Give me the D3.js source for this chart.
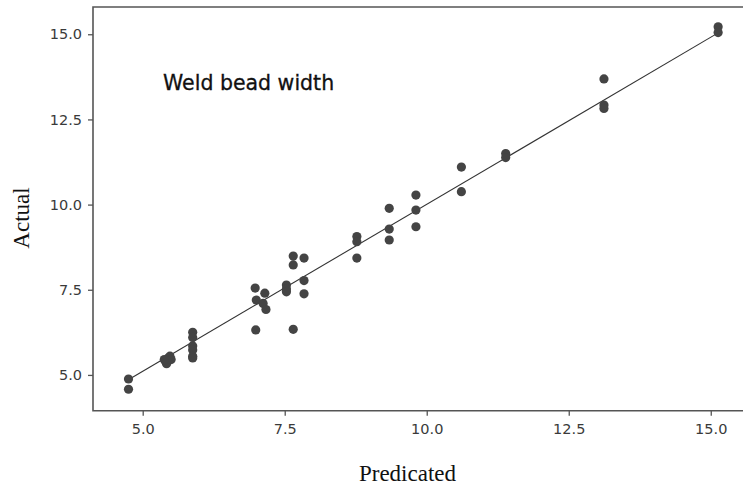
<!DOCTYPE html>
<html>
<head>
<meta charset="utf-8">
<script src="https://cdn.jsdelivr.net/npm/d3@7/dist/d3.min.js"></script>
<style>
  html, body { margin: 0; padding: 0; background: #fff; }
  svg { display: block; }
</style>
</head>
<body>
<svg id="chart" width="743" height="491"></svg>
<script>
// Data
const predicted = [4.75, 4.75,
  5.40, 5.45, 5.48, 5.42, 5.50, 5.38,
  5.88, 5.88, 5.88, 5.88, 5.88, 5.88,
  6.98, 7.00, 7.15, 7.12, 7.17, 6.99,
  7.53, 7.53, 7.53,
  7.65, 7.65, 7.65,
  7.84, 7.84, 7.84,
  8.77, 8.77, 8.77,
  9.34, 9.34, 9.34,
  9.81, 9.81, 9.81,
  10.61, 10.61,
  11.39, 11.39,
  13.12, 13.12, 13.12,
  15.13, 15.13];
const actual = [4.88, 4.58,
  5.40, 5.50, 5.55, 5.33, 5.45, 5.45,
  6.25, 6.10, 5.85, 5.73, 5.55, 5.50,
  7.55, 7.20, 7.40, 7.10, 6.92, 6.32,
  7.64, 7.52, 7.44,
  8.49, 8.23, 6.34,
  8.43, 7.77, 7.38,
  9.06, 8.91, 8.43,
  9.89, 9.28, 8.96,
  10.28, 9.84, 9.35,
  11.10, 10.38,
  11.50, 11.38,
  13.69, 12.92, 12.82,
  15.22, 15.05];
const fitX = [4.74, 15.13];
const fitY = [4.85, 15.04];
const xTicks = [5.0, 7.5, 10.0, 12.5, 15.0];
const yTicks = [5.0, 7.5, 10.0, 12.5, 15.0];
const xTitle = "Predicated";
const yTitle = "Actual";
const annotation = "Weld bead width";

const svg = d3.select("#chart");
const pLeft = 93, pRight = 742, pTop = 7, pBottom = 410.7;

const x = d3.scaleLinear().domain([4.125, 15.55]).range([pLeft, pRight]);
const y = d3.scaleLinear().domain([3.95, 15.8]).range([pBottom, pTop]);

// Frame (top, left, bottom)
svg.append("path")
  .attr("d", `M${pRight + 2},${pTop}H${pLeft}V${pBottom}H${pRight + 2}`)
  .attr("fill", "none")
  .attr("stroke", "#555")
  .attr("stroke-width", 1.6);

// Axes
const xAxis = svg.append("g")
  .attr("transform", `translate(0,${pBottom})`)
  .call(d3.axisBottom(x).tickValues(xTicks).tickFormat(d3.format(".1f")).tickSize(5).tickPadding(8));
const yAxis = svg.append("g")
  .attr("transform", `translate(${pLeft},0)`)
  .call(d3.axisLeft(y).tickValues(yTicks).tickFormat(d3.format(".1f")).tickSize(5).tickPadding(6));

[xAxis, yAxis].forEach(g => {
  g.select(".domain").remove();
  g.selectAll(".tick line").attr("stroke", "#555").attr("stroke-width", 1.3);
  g.selectAll(".tick text")
    .attr("fill", "#3a3a3a")
    .style("font-family", "'DejaVu Sans', sans-serif")
    .style("font-size", "14.5px");
});

// Fit line
const fitData = fitX.map((v, i) => [v, fitY[i]]);
svg.append("path")
  .datum(fitData)
  .attr("d", d3.line().x(d => x(d[0])).y(d => y(d[1])))
  .attr("stroke", "#333")
  .attr("stroke-width", 1.1)
  .attr("fill", "none");

// Points
const pts = predicted.map((p, i) => ({p, a: actual[i]}));
svg.append("g").selectAll("circle")
  .data(pts)
  .join("circle")
  .attr("cx", d => x(d.p))
  .attr("cy", d => y(d.a))
  .attr("r", 4.6)
  .attr("fill", "#444");

// Annotation
svg.append("text")
  .attr("x", 163)
  .attr("y", 90)
  .attr("fill", "#111")
  .attr("stroke", "#111")
  .attr("stroke-width", 0.3)
  .style("font-family", "'DejaVu Sans', sans-serif")
  .style("font-size", "20.5px")
  .text(annotation);

// Axis titles
svg.append("text")
  .attr("x", 407.5)
  .attr("y", 481)
  .attr("text-anchor", "middle")
  .attr("fill", "#111")
  .style("font-family", "'Liberation Serif', 'Times New Roman', serif")
  .style("font-size", "23px")
  .text(xTitle);

svg.append("text")
  .attr("transform", "translate(29,218) rotate(-90)")
  .attr("text-anchor", "middle")
  .attr("fill", "#111")
  .style("font-family", "'Liberation Serif', 'Times New Roman', serif")
  .style("font-size", "23px")
  .text(yTitle);
</script>
</body>
</html>
